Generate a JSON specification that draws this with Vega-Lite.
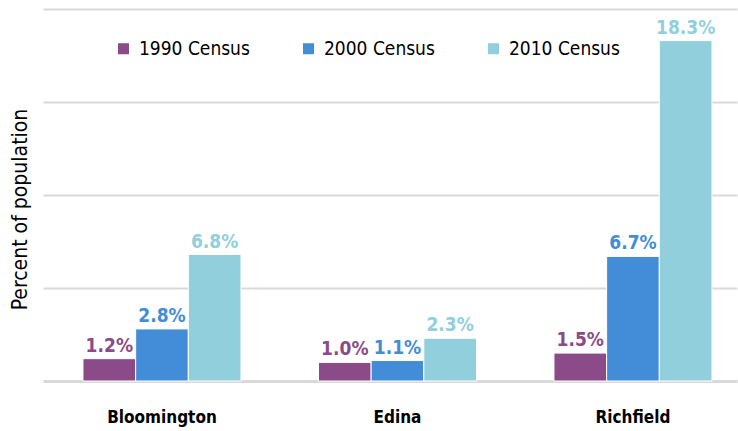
{
  "$schema": "https://vega.github.io/schema/vega-lite/v6.json",
  "width": 694,
  "height": 372,
  "autosize": {"type": "none"},
  "padding": {"left": 43, "top": 9, "right": 1, "bottom": 50},
  "background": "white",
  "config": {
    "view": {"stroke": null},
    "font": "DejaVu Sans Condensed, DejaVu Sans, sans-serif"
  },
  "data": {
    "values": [
      {"city": "Bloomington", "census": "1990 Census", "value": 0.012},
      {"city": "Bloomington", "census": "2000 Census", "value": 0.028},
      {"city": "Bloomington", "census": "2010 Census", "value": 0.068},
      {"city": "Edina", "census": "1990 Census", "value": 0.010},
      {"city": "Edina", "census": "2000 Census", "value": 0.011},
      {"city": "Edina", "census": "2010 Census", "value": 0.023},
      {"city": "Richfield", "census": "1990 Census", "value": 0.015},
      {"city": "Richfield", "census": "2000 Census", "value": 0.067},
      {"city": "Richfield", "census": "2010 Census", "value": 0.183}
    ]
  },
  "encoding": {
    "x": {
      "field": "city",
      "type": "nominal",
      "sort": ["Bloomington", "Edina", "Richfield"],
      "scale": {"paddingInner": 0.329, "paddingOuter": 0.138, "align": 0.615},
      "axis": {
        "title": null,
        "labelAngle": 0,
        "ticks": false,
        "labelPadding": 28,
        "labelFontSize": 17,
        "labelFontWeight": "bold",
        "labelColor": "#000000",
        "domainColor": "#d9d9d9",
        "domainWidth": 3
      }
    },
    "xOffset": {
      "field": "census",
      "type": "nominal",
      "sort": ["1990 Census", "2000 Census", "2010 Census"],
      "scale": {"paddingInner": 0, "paddingOuter": 0}
    },
    "y": {
      "field": "value",
      "type": "quantitative",
      "scale": {"domain": [0, 0.2], "nice": false},
      "axis": {
        "title": "Percent of population",
        "titleFontSize": 21,
        "titleFontWeight": "normal",
        "titleColor": "#000000",
        "titleAngle": -90,
        "titleAlign": "center",
        "titleBaseline": "middle",
        "titleX": -23,
        "titleY": 200,
        "labels": false,
        "ticks": false,
        "domain": false,
        "values": [0.05, 0.1, 0.15, 0.2],
        "gridColor": "#d9d9d9",
        "gridWidth": 2
      }
    },
    "color": {
      "field": "census",
      "type": "nominal",
      "sort": ["1990 Census", "2000 Census", "2010 Census"],
      "scale": {"range": ["#8a4b88", "#438dd8", "#91cfdc"]},
      "legend": {
        "title": null,
        "orient": "none",
        "legendX": 71,
        "legendY": 30,
        "direction": "horizontal",
        "columns": 3,
        "columnPadding": 49,
        "symbolType": "square",
        "symbolSize": 121,
        "symbolStrokeWidth": 0,
        "labelFontSize": 19,
        "labelColor": "#000000",
        "labelOffset": 6,
        "labelLimit": 200
      }
    }
  },
  "layer": [
    {
      "mark": {"type": "bar", "stroke": "white", "strokeWidth": 1}
    },
    {
      "mark": {"type": "text", "baseline": "bottom", "dy": -3, "fontSize": 19, "fontWeight": "bold"},
      "encoding": {
        "text": {"field": "value", "type": "quantitative", "format": ".1%"}
      }
    }
  ]
}
